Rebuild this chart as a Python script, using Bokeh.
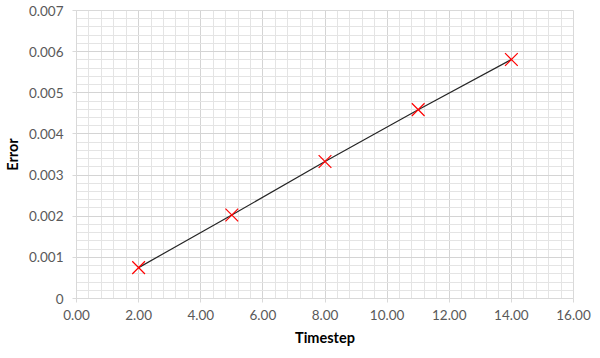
from bokeh.plotting import figure
from bokeh.models import FixedTicker, CustomJSTickFormatter, Range1d
from bokeh.embed import file_html
from bokeh.resources import INLINE

# Data
timestep = [2, 5, 8, 11, 14]
error = [0.00075, 0.00203, 0.00333, 0.00459, 0.00581]

x_ticks = [0, 2, 4, 6, 8, 10, 12, 14, 16]
y_ticks = [0, 0.001, 0.002, 0.003, 0.004, 0.005, 0.006, 0.007]
x_minor = [i * 0.4 for i in range(41)]
y_minor = [i * 0.0002 for i in range(36)]

FONT = "Lato"
TICK_COLOR = "#595959"

p = figure(width=600, height=358, output_backend="svg", toolbar_location=None,
           x_range=Range1d(0, 16), y_range=Range1d(0, 0.007),
           min_border_left=76, min_border_right=27, min_border_top=10, min_border_bottom=60)
p.background_fill_color = "white"
p.border_fill_color = "white"
p.outline_line_color = "#d9d9d9"

p.xaxis.ticker = FixedTicker(ticks=x_ticks, minor_ticks=x_minor)
p.yaxis.ticker = FixedTicker(ticks=y_ticks, minor_ticks=y_minor)
p.xaxis.formatter = CustomJSTickFormatter(code="return tick.toFixed(2);")
p.yaxis.formatter = CustomJSTickFormatter(code="return tick == 0 ? '0' : tick.toFixed(3);")

for ax in (p.xaxis, p.yaxis):
    ax.axis_line_color = "#d9d9d9"
    ax.major_tick_line_color = "#d9d9d9"
    ax.major_tick_out = 4
    ax.major_tick_in = 0
    ax.minor_tick_line_color = None
    ax.major_label_text_font = FONT
    ax.major_label_text_font_size = "13.5px"
    ax.major_label_text_color = TICK_COLOR
    ax.axis_label_text_font = FONT
    ax.axis_label_text_font_size = "14.5px"
    ax.axis_label_text_font_style = "bold"
    ax.axis_label_text_color = "black"

p.xaxis.axis_label = "Timestep"
p.yaxis.axis_label = "Error"
p.xaxis.major_label_standoff = 7
p.yaxis.major_label_standoff = 9
p.xaxis.axis_label_standoff = 6
p.yaxis.axis_label_standoff = 5

for g in (p.xgrid, p.ygrid):
    g.grid_line_color = "#d4d4d4"
    g.minor_grid_line_color = "#e4e4e4"
    g.grid_line_width = 1
    g.minor_grid_line_width = 1
p.xgrid.level = "underlay"
p.ygrid.level = "underlay"

p.line(timestep, error, line_color="#262626", line_width=1.2)
p.scatter(timestep, error, marker="x", size=18, line_color="#ff0000", line_width=1.2)

open("out.html", "w").write(file_html(p, INLINE))
